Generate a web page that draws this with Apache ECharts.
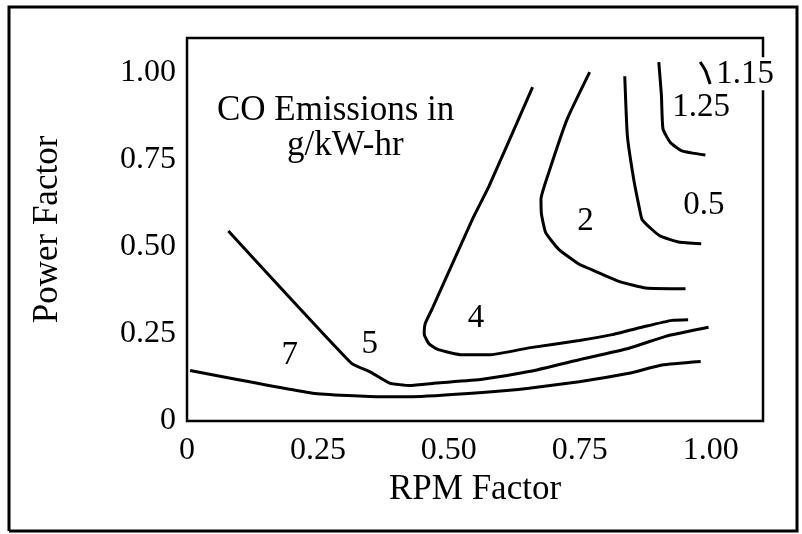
<!DOCTYPE html>
<html>
<head>
<meta charset="utf-8">
<script src="https://cdn.jsdelivr.net/npm/echarts@6/dist/echarts.min.js"></script>
<style>
  html, body { margin: 0; padding: 0; background: #fff; }
  #chart { width: 802px; height: 534px; }
</style>
</head>
<body>
<div id="chart"></div>
<script>
// contour lines, [rpm, power]
var line7 = [[0.006, 0.145], [0.24, 0.080], [0.373, 0.070], [0.43, 0.070], [0.564, 0.082],
  [0.653, 0.094], [0.749, 0.113], [0.844, 0.137], [0.907, 0.161], [0.981, 0.171]];
var line5 = [[0.079, 0.546], [0.314, 0.166], [0.349, 0.142], [0.387, 0.109], [0.425, 0.102],
  [0.476, 0.109], [0.564, 0.120], [0.653, 0.142], [0.749, 0.176], [0.844, 0.209],
  [0.914, 0.243], [0.996, 0.269]];
var line4 = [[0.660, 0.959], [0.577, 0.675], [0.545, 0.579], [0.469, 0.325], [0.455, 0.280],
  [0.453, 0.250], [0.462, 0.222], [0.480, 0.205], [0.526, 0.190], [0.577, 0.190], [0.653, 0.210],
  [0.749, 0.231], [0.812, 0.248], [0.876, 0.272], [0.926, 0.289], [0.957, 0.291]];
var line2 = [[0.769, 1.002], [0.726, 0.867], [0.691, 0.714], [0.676, 0.637], [0.677, 0.594],
  [0.685, 0.541], [0.710, 0.493], [0.749, 0.450], [0.780, 0.430], [0.825, 0.401],
  [0.876, 0.382], [0.952, 0.380]];
var line05 = [[0.836, 0.990], [0.841, 0.819], [0.853, 0.695], [0.863, 0.618], [0.869, 0.579],
  [0.888, 0.550], [0.904, 0.531], [0.939, 0.514], [0.982, 0.509]];
var line125 = [[0.901, 1.031], [0.906, 0.935], [0.909, 0.839], [0.923, 0.800], [0.945, 0.776],
  [0.990, 0.764]];
var line115 = [[0.980, 1.031], [0.990, 1.007], [0.999, 0.968]];

// contour value labels
var labelText = ['7', '5', '4', '2', '0.5', '1.25', '1.15'];
var labelX = [0.196, 0.349, 0.552, 0.761, 0.987, 0.982, 1.066];
var labelY = [0.190, 0.219, 0.296, 0.574, 0.618, 0.901, 0.997];

var tickLabels = { 0: '0', 0.25: '0.25', 0.5: '0.50', 0.75: '0.75', 1: '1.00' };

var font = 'Liberation Serif, Times New Roman, serif';
var chart = echarts.init(document.getElementById('chart'));

function contour(data) {
  return {
    type: 'line',
    data: data,
    showSymbol: false,
    symbol: 'none',
    smooth: 0.15,
    clip: false,
    lineStyle: { color: '#000', width: 3 },
    silent: true
  };
}

var labelData = labelText.map(function (t, i) { return [labelX[i], labelY[i], t]; });

var axisCommon = {
  type: 'value',
  min: 0,
  max: 1.1,
  interval: 0.25,
  splitLine: { show: false },
  axisLine: { show: false },
  axisTick: { show: false },
  nameLocation: 'middle',
  nameTextStyle: { fontFamily: font, fontSize: 35, color: '#000' }
};

chart.setOption({
  animation: false,
  backgroundColor: '#fff',
  grid: {
    left: 187, top: 38, right: 39, bottom: 113,
    show: true, borderColor: '#000', borderWidth: 2.5
  },
  xAxis: Object.assign({}, axisCommon, {
    name: 'RPM Factor',
    nameGap: 50,
    axisLabel: {
      fontFamily: font, fontSize: 32, color: '#000', margin: 14,
      formatter: function (v) { return tickLabels[v] || ''; }
    }
  }),
  yAxis: Object.assign({}, axisCommon, {
    name: 'Power Factor',
    nameGap: 122,
    axisLabel: {
      fontFamily: font, fontSize: 32, color: '#000', margin: 11,
      formatter: function (v) { return tickLabels[v] || ''; }
    }
  }),
  graphic: [
    { type: 'polyline', silent: true,
      shape: { points: [[9, 531], [9, 7], [797, 7], [797, 531], [9, 531]] },
      style: { stroke: '#000', lineWidth: 3, fill: null } },
    { type: 'text', left: 217, top: 93, silent: true,
      style: { text: 'CO Emissions in', font: '35px ' + font, fill: '#000' } },
    { type: 'text', left: 287, top: 128, silent: true,
      style: { text: 'g/kW-hr', font: '35px ' + font, fill: '#000' } }
  ],
  series: [
    contour(line7), contour(line5), contour(line4), contour(line2),
    contour(line05), contour(line125), contour(line115),
    {
      type: 'scatter',
      data: labelData,
      symbolSize: 0,
      itemStyle: { color: '#000', opacity: 1 },
      clip: false,
      silent: true,
      z: 5,
      label: {
        show: true,
        position: 'inside',
        formatter: function (p) { return p.data[2]; },
        fontFamily: font,
        fontSize: 33,
        color: '#000',
        opacity: 1,
        textBorderWidth: 0,
        backgroundColor: '#fff',
        padding: [0, 2]
      }
    }
  ]
});
</script>
</body>
</html>
